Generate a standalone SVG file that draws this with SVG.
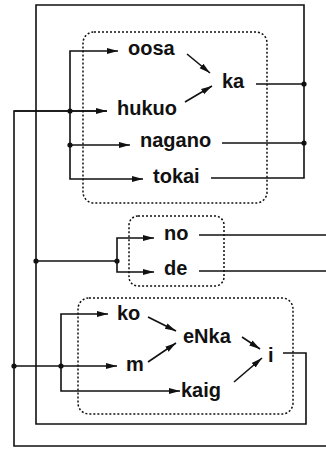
<svg xmlns="http://www.w3.org/2000/svg" width="326" height="449" viewBox="0 0 326 449">
  <defs>
    <marker id="arrow" markerUnits="userSpaceOnUse" markerWidth="12" markerHeight="8" refX="11" refY="4" orient="auto">
      <path d="M0,1 L11,4 L0,7 Z" fill="#111"/>
    </marker>
  </defs>
  <style>
    .lbl { font-family: "Liberation Sans", Arial, sans-serif; font-weight: bold; font-size: 20px; fill: #111; }
    .wire { fill: none; stroke: #111; stroke-width: 1.6; }
    .arr { fill: none; stroke: #111; stroke-width: 1.6; marker-end: url(#arrow); }
    .grp { fill: none; stroke: #111; stroke-width: 1.5; stroke-dasharray: 2 2; }
    .dot { fill: #111; }
  </style>
  <rect width="326" height="449" fill="#fff"/>

  <!-- group boxes -->
  <g id="group-place">
    <rect class="grp" x="83" y="32" width="184" height="171" rx="11"/>
  </g>
  <g id="group-particle">
    <rect class="grp" x="129" y="216" width="95" height="70" rx="9"/>
  </g>
  <g id="group-word">
    <rect class="grp" x="78" y="298" width="215" height="116" rx="11"/>
  </g>

  <!-- connectors -->
  <g id="connectors">
    <!-- outer feedback loops -->
    <polyline class="wire" points="283,353 306,353 306,424 36,424 36,5 304,5 304,178 211,178"/>
    <polyline class="wire" points="107,111 14,111 14,446 326,446"/>
    <line class="wire" x1="256" y1="84" x2="304" y2="84"/>
    <line class="wire" x1="222" y1="143" x2="304" y2="143"/>

    <!-- place group inputs -->
    <polyline class="arr" points="70,111 70,51 118,51"/>
    <line class="arr" x1="14" y1="111" x2="107" y2="111"/>
    <line class="arr" x1="70" y1="145" x2="130" y2="145"/>
    <polyline class="arr" points="70,111 70,179 143,179"/>
    <line class="arr" x1="187" y1="54" x2="210" y2="73"/>
    <line class="arr" x1="185" y1="102" x2="212" y2="86"/>

    <!-- particle group -->
    <line class="wire" x1="36" y1="261" x2="117" y2="261"/>
    <polyline class="arr" points="117,261 117,238 154,238"/>
    <polyline class="arr" points="117,261 117,272 154,272"/>
    <line class="wire" x1="199" y1="235" x2="326" y2="235"/>
    <line class="wire" x1="199" y1="271" x2="326" y2="271"/>

    <!-- word group -->
    <line class="arr" x1="14" y1="366" x2="117" y2="366"/>
    <polyline class="arr" points="61,366 61,314 108,314"/>
    <polyline class="arr" points="61,366 61,391 180,391"/>
    <line class="arr" x1="148" y1="317" x2="176" y2="331"/>
    <line class="arr" x1="148" y1="362" x2="176" y2="343"/>
    <line class="arr" x1="242" y1="337" x2="260" y2="349"/>
    <line class="arr" x1="234" y1="382" x2="262" y2="358"/>

    <!-- junction dots -->
    <circle class="dot" cx="70" cy="111" r="2.6"/>
    <circle class="dot" cx="70" cy="145" r="2.6"/>
    <circle class="dot" cx="304" cy="84" r="2.6"/>
    <circle class="dot" cx="304" cy="143" r="2.6"/>
    <circle class="dot" cx="36" cy="261" r="2.6"/>
    <circle class="dot" cx="117" cy="261" r="2.6"/>
    <circle class="dot" cx="14" cy="366" r="2.6"/>
    <circle class="dot" cx="61" cy="366" r="2.6"/>
  </g>

  <!-- nodes -->
  <g id="oosa"><text class="lbl" x="128" y="55">oosa</text></g>
  <g id="ka"><text class="lbl" x="222" y="88">ka</text></g>
  <g id="hukuo"><text class="lbl" x="117" y="115">hukuo</text></g>
  <g id="nagano"><text class="lbl" x="140" y="147">nagano</text></g>
  <g id="tokai"><text class="lbl" x="153" y="183">tokai</text></g>
  <g id="no"><text class="lbl" x="164" y="240">no</text></g>
  <g id="de"><text class="lbl" x="164" y="275">de</text></g>
  <g id="ko"><text class="lbl" x="117" y="320">ko</text></g>
  <g id="eNka"><text class="lbl" x="183" y="343">eNka</text></g>
  <g id="m"><text class="lbl" x="126" y="371">m</text></g>
  <g id="i"><text class="lbl" x="268" y="362">i</text></g>
  <g id="kaig"><text class="lbl" x="181" y="397">kaig</text></g>
</svg>
